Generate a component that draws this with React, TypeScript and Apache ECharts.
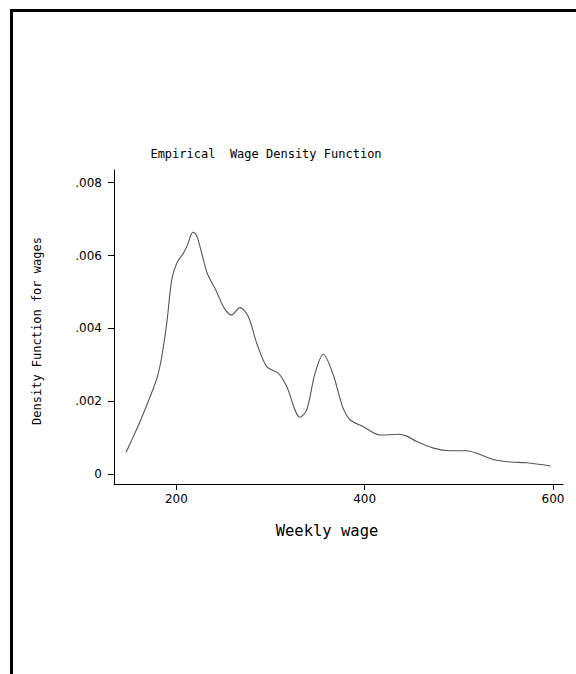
import React, { useEffect, useRef } from "react";
import * as echarts from "echarts";

const wages = [146.7, 152.6, 161.5, 172.1, 179.8, 184.5, 189.8, 195.1, 200.4, 207.4, 212.3, 215.2, 217.6, 220.0, 222.6, 227, 233, 242, 251, 258.8, 267.6, 276.5, 285.4, 296, 308.3, 317.2, 331.3, 338.5, 347.3, 356.1, 366.7, 376.5, 384.4, 398.6, 416.3, 436.5, 444.7, 455.3, 473, 490.6, 508.4, 519, 536.7, 554.4, 572.1, 597.6];
const density = [0.0006, 0.00093, 0.00144, 0.00212, 0.00267, 0.00322, 0.00414, 0.00533, 0.00579, 0.00606, 0.00632, 0.00655, 0.00664, 0.00661, 0.00648, 0.00606, 0.0055, 0.00505, 0.00455, 0.00437, 0.00457, 0.00432, 0.00359, 0.00295, 0.00277, 0.0024, 0.00156, 0.00176, 0.00277, 0.00329, 0.00272, 0.00185, 0.00149, 0.0013, 0.00107, 0.00109, 0.00104, 0.00089, 0.00071, 0.00064, 0.00064, 0.00057, 0.0004, 0.00033, 0.00031, 0.00022];

const xTicks = [200, 400, 600];
const yTicks = [0, 0.002, 0.004, 0.006, 0.008];

const titleText = "Empirical  Wage Density Function";
const xTitle = "Weekly wage";
const yTitle = "Density Function for wages";

export default function App() {
  const ref = useRef<HTMLDivElement>(null);
  useEffect(() => {
    if (!ref.current) return;
    const chart = echarts.init(ref.current, null, { renderer: "svg" });
    const mono = "'DejaVu Sans Mono', monospace";
    const sans = "'DejaVu Sans', sans-serif";
    chart.setOption({
      animation: false,
      backgroundColor: "#ffffff",
      grid: { left: 114, right: 13, top: 170, bottom: 190, containLabel: false },
      xAxis: {
        type: "value",
        min: 133.8,
        max: 610.6,
        splitLine: { show: false },
        axisLine: { show: true, onZero: false, lineStyle: { color: "#000", width: 1 } },
        axisTick: { show: true, length: 6, customValues: xTicks, lineStyle: { color: "#000" } },
        axisLabel: { customValues: xTicks, margin: 9, color: "#000", fontFamily: sans, fontSize: 12 },
      },
      yAxis: {
        type: "value",
        min: -0.000275,
        max: 0.00835,
        splitLine: { show: false },
        axisLine: { show: true, onZero: false, lineStyle: { color: "#000", width: 1 } },
        axisTick: { show: true, length: 6, customValues: yTicks, lineStyle: { color: "#000" } },
        axisLabel: {
          customValues: yTicks,
          margin: 12,
          color: "#000",
          fontFamily: sans,
          fontSize: 12,
          formatter: (v: number) => (v === 0 ? "0" : v.toFixed(3).replace(/^0/, "")),
        },
      },
      series: [
        {
          type: "line",
          data: wages.map((w, i) => [w, density[i]]),
          smooth: 0.3,
          showSymbol: false,
          lineStyle: { color: "#555", width: 1.1 },
        },
      ],
      graphic: [
        {
          type: "rect",
          shape: { x: 11.5, y: 10.5, width: 1000, height: 1000 },
          style: { fill: "none", stroke: "#000", lineWidth: 3 },
          silent: true,
        },
        {
          type: "text",
          x: 266,
          y: 153.5,
          style: { text: titleText, fontFamily: mono, fontSize: 12, fill: "#000", align: "center", verticalAlign: "middle" },
        },
        {
          type: "text",
          x: 327,
          y: 531,
          style: { text: xTitle, fontFamily: mono, fontSize: 15.5, fill: "#000", align: "center", verticalAlign: "middle" },
        },
        {
          type: "text",
          x: 37,
          y: 331,
          rotation: Math.PI / 2,
          style: { text: yTitle, fontFamily: mono, fontSize: 12, fill: "#000", align: "center", verticalAlign: "middle" },
        },
      ],
    });
    return () => chart.dispose();
  }, []);
  return (
    <div
      ref={ref}
      style={{ position: "fixed", left: 0, top: 0, width: 576, height: 674, background: "#fff" }}
    />
  );
}
